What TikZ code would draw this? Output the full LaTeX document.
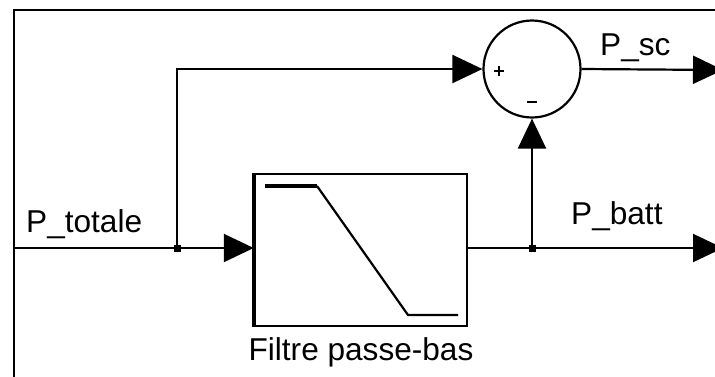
\documentclass[tikz,border=0pt]{standalone}
\usepackage{fontspec}
\setmainfont{Liberation Sans}
\usetikzlibrary{arrows.meta}
\begin{document}
\begin{tikzpicture}[x=1pt,y=-1pt,
  wire/.style={line width=2.2pt},
  arr/.style={wire,-{Triangle[length=30pt,width=28pt]}},
  lbl/.style={anchor=base west,inner sep=0pt,font=\fontsize{31.6}{38}\selectfont},
  dot/.style={fill=black,minimum size=7pt,inner sep=0pt,rectangle},
  sign/.style={line width=1.8pt}]
\useasboundingbox (0,0) rectangle (715,376);
\clip (0,0) rectangle (715,376);
% outer frame
\draw[line width=2.5pt] (14,380) -- (14,10) -- (720,10);
% blocks
\node[draw,circle,line width=2.2pt,minimum size=97pt,inner sep=0pt] (sum) at (532,69) {};
\node[draw,rectangle,line width=2.5pt,minimum width=212pt,minimum height=152pt,inner sep=0pt] (filt) at (361,250) {};
\draw[line width=4.5pt] (filt.south west) -- (filt.north west);
% low-pass response curve
\draw[line width=4pt] (265,186) -- (317,186);
\draw[line width=2.2pt] (317,186) -- (408,315) -- (458,315);
% sign marks
\coordinate (pc) at (499,71);
\draw[sign] ([xshift=-5pt]pc) -- ([xshift=5pt]pc);
\draw[sign] ([yshift=-5pt]pc) -- ([yshift=5pt]pc);
\draw[sign] (527,102) -- (537,102);
% junctions and ends
\coordinate (in) at (14,248);
\coordinate (b1) at (177,248);
\coordinate (b2) at (532,248);
\coordinate (outs) at (723,70);
\coordinate (outb) at (723,248);
\draw[wire] (in) -- (b1);
\draw[arr] (b1) -- (b1 -| filt.west);
\draw[arr] (b1) |- (sum.west);
\draw[wire] (b1 -| filt.east) -- (b2);
\draw[arr] (b2) -- (sum.south);
\draw[arr] (b2) -- (outb);
\draw[arr] (sum.east) -- (outs);
\node[dot] (j1) at (b1) {};
\node[dot] (j2) at (b2) {};
% labels
\node[lbl] (lt) at (26,232) {P\_totale};
\node[lbl] (ls) at (600,55) {P\_sc};
\node[lbl] (lb) at (571,224) {P\_batt};
\node[lbl,anchor=base] (lf) at (361,360) {Filtre passe-bas};
\end{tikzpicture}
\end{document}
